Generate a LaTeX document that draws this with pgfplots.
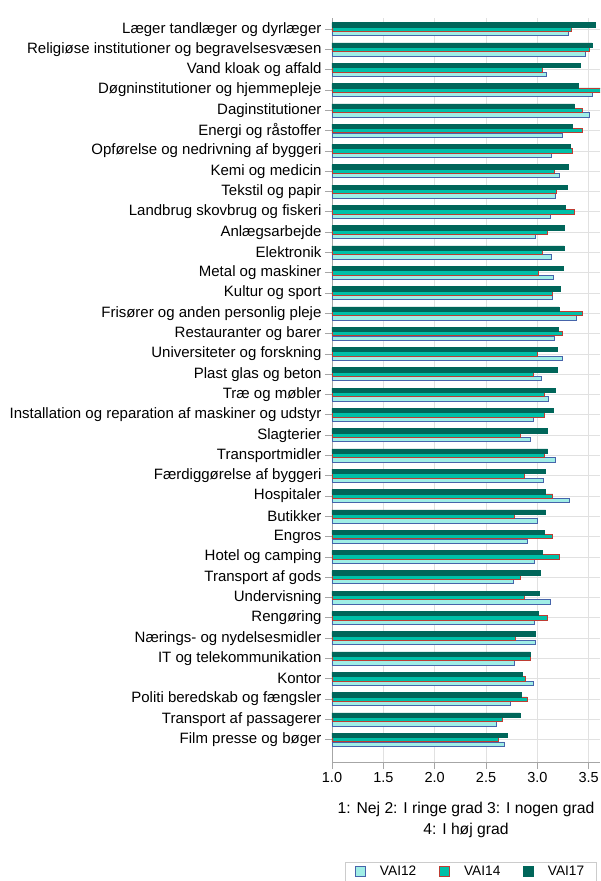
\documentclass[border=0pt]{standalone}
\usepackage{pgfplots}
\pgfplotsset{compat=1.18}
\usepackage{fontspec}
\setmainfont{Liberation Sans}
\definecolor{c12}{RGB}{160,238,230}
\definecolor{e12}{RGB}{70,100,170}
\definecolor{c14}{RGB}{0,192,168}
\definecolor{e14}{RGB}{190,60,50}
\definecolor{c17}{RGB}{0,102,90}
\definecolor{gridc}{RGB}{225,225,225}
\begin{document}
\begin{tikzpicture}
\useasboundingbox (-332pt,-119pt) rectangle (269pt,762pt);
\begin{axis}[
  at={(0pt,0pt)}, anchor=south west,
  scale only axis, width=268pt, height=744pt,
  xbar, bar width=4.3pt,
  y dir=reverse,
  xmin=1, xmax=3.61, ymin=-0.55, ymax=36.1,
  xtick={1,1.5,2,2.5,3,3.5},
  xticklabels={1.0,1.5,2.0,2.5,3.0,3.5},
  ytick={0,...,35},
  yticklabels={Læger tandlæger og dyrlæger,Religiøse institutioner og begravelsesvæsen,Vand kloak og affald,Døgninstitutioner og hjemmepleje,Daginstitutioner,Energi og råstoffer,Opførelse og nedrivning af byggeri,Kemi og medicin,Tekstil og papir,Landbrug skovbrug og fiskeri,Anlægsarbejde,Elektronik,Metal og maskiner,Kultur og sport,Frisører og anden personlig pleje,Restauranter og barer,Universiteter og forskning,Plast glas og beton,Træ og møbler,Installation og reparation af maskiner og udstyr,Slagterier,Transportmidler,Færdiggørelse af byggeri,Hospitaler,Butikker,Engros,Hotel og camping,Transport af gods,Undervisning,Rengøring,Nærings- og nydelsesmidler,IT og telekommunikation,Kontor,Politi beredskab og fængsler,Transport af passagerer,Film presse og bøger},
  /pgf/number format/assume math mode=true,
  yticklabel style={font=\fontsize{15}{16}\selectfont},
  xticklabel style={font=\fontsize{14.5}{16}\selectfont},
  tick align=outside, major tick length=7pt,
  tick style={gray!70, line width=0.8pt},
  axis x line*=bottom, axis y line*=left,
  axis line style={-, draw=gray!70, line width=0.9pt},
  xmajorgrids, ymajorgrids,
  grid style={gridc, line width=0.9pt},
  xlabel={1: Nej 2: I ringe grad 3: I nogen grad\\4: I høj grad},
  xlabel style={at={(axis description cs:0.5,0)}, anchor=north, yshift=-37pt, align=center, font=\fontsize{15.7}{21}\selectfont},
  legend style={at={(axis description cs:0.0485,-0.134)}, anchor=north west, legend columns=3, draw=gray!40, inner xsep=10pt, font=\fontsize{13.7}{16}\selectfont, /tikz/every odd column/.append style={column sep=12pt}, /tikz/every even column/.append style={column sep=21pt}},
  legend image code/.code={\draw[#1] (0pt,-4.5pt) rectangle (10pt,5.5pt);},
  clip=true,
]
\addplot[fill=c12, draw=e12, line width=0.8pt, bar shift=-4.4pt] coordinates {
(3.30,0) (3.47,1) (3.09,2) (3.54,3) (3.51,4) (3.24,5) (3.14,6) (3.21,7) (3.18,8) (3.13,9)
(2.98,10) (3.14,11) (3.16,12) (3.15,13) (3.38,14) (3.17,15) (3.24,16) (3.04,17) (3.11,18) (2.96,19)
(2.93,20) (3.18,21) (3.06,22) (3.31,23) (3.00,24) (2.90,25) (2.97,26) (2.77,27) (3.13,28) (2.97,29)
(2.98,30) (2.78,31) (2.96,32) (2.74,33) (2.60,34) (2.68,35)};
\addlegendentry{VAI12}
\addplot[fill=c14, draw=e14, line width=0.8pt, bar shift=0pt] coordinates {
(3.33,0) (3.51,1) (3.05,2) (3.62,3) (3.44,4) (3.44,5) (3.34,6) (3.17,7) (3.19,8) (3.36,9)
(3.10,10) (3.05,11) (3.01,12) (3.15,13) (3.44,14) (3.24,15) (3.00,16) (2.96,17) (3.07,18) (3.07,19)
(2.83,20) (3.07,21) (2.87,22) (3.15,23) (2.78,24) (3.15,25) (3.21,26) (2.83,27) (2.87,28) (3.10,29)
(2.79,30) (2.93,31) (2.88,32) (2.90,33) (2.66,34) (2.62,35)};
\addlegendentry{VAI14}
\addplot[fill=c17, draw=c17, line width=0.5pt, bar shift=4.4pt] coordinates {
(3.56,0) (3.53,1) (3.42,2) (3.40,3) (3.36,4) (3.34,5) (3.32,6) (3.30,7) (3.29,8) (3.27,9)
(3.26,10) (3.26,11) (3.25,12) (3.22,13) (3.21,14) (3.20,15) (3.19,16) (3.19,17) (3.17,18) (3.15,19)
(3.10,20) (3.10,21) (3.08,22) (3.08,23) (3.08,24) (3.07,25) (3.05,26) (3.03,27) (3.02,28) (3.01,29)
(2.98,30) (2.93,31) (2.85,32) (2.84,33) (2.83,34) (2.71,35)};
\addlegendentry{VAI17}
\end{axis}
\end{tikzpicture}
\end{document}
